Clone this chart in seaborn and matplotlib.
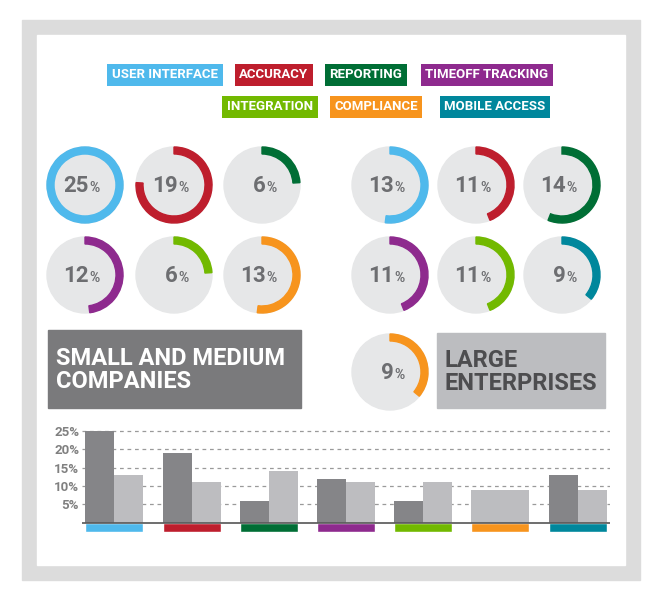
import numpy as np
import pandas as pd
import matplotlib
matplotlib.use("Agg")
import matplotlib.pyplot as plt
from matplotlib.patches import Rectangle, Wedge, Circle
import seaborn as sns

# ---- data ----
categories = ["USER INTERFACE", "ACCURACY", "REPORTING", "TIMEOFF TRACKING",
              "INTEGRATION", "COMPLIANCE", "MOBILE ACCESS"]
cat_colors = ["#4fb9ec", "#be1e2d", "#006e35", "#8e2a8e", "#72b900", "#f7941d", "#00879c"]
small_circles = [25, 19, 6, 12, 6, 13]
small_circle_cats = [0, 1, 2, 3, 4, 5]
large_circles = [13, 11, 14, 11, 11, 9, 9]
large_circle_cats = [0, 1, 2, 3, 4, 6, 5]
small_bars = [25, 19, 6, 12, 6, 9, 13]
large_bars = [13, 11, 14, 11, 11, 9, 9]
yticks = [5, 10, 15, 20, 25]

sns.set_theme(style="white")
plt.rcParams["font.family"] = ["Roboto", "DejaVu Sans"]
FONT = dict(fontweight="bold")

fig = plt.figure(figsize=(6.6, 6.01), dpi=100)
bg = fig.add_axes([0, 0, 1, 1])
bg.set_xlim(0, 660)
bg.set_ylim(601, 0)
bg.axis("off")

# frame
bg.add_patch(Rectangle((22, 20), 618, 560, color="#dcdcdc", zorder=0))
bg.add_patch(Rectangle((37, 35), 588, 530, color="white", zorder=1))

# legend tags
rows = [[0, 1, 2, 3], [4, 5, 6]]
row_y = [75, 107]
row_x = [[165, 274, 366, 487], [270, 376, 495]]
for r, idxs in enumerate(rows):
    for i, x in zip(idxs, row_x[r]):
        bg.text(x, row_y[r], categories[i], ha="center", va="center", color="white",
                fontsize=9.5, zorder=3,
                bbox=dict(boxstyle="square,pad=0.35", fc=cat_colors[i], ec="none"), **FONT)


def ring(cx, cy, val, col, r=38):
    bg.add_patch(Circle((cx, cy), r, color="#e6e7e8", zorder=2))
    frac = min(val / 25, 1.0)
    # y axis is inverted: -90 is the top, increasing angle runs clockwise on screen
    bg.add_patch(Wedge((cx, cy), r, -90, -90 + 360 * frac, width=7, color=col, zorder=3))
    bg.text(cx + 4, cy + 1, str(val), ha="right", va="center", fontsize=16,
            color="#6d6e71", zorder=4, **FONT)
    bg.text(cx + 4, cy + 3, "%", ha="left", va="center", fontsize=10,
            color="#6d6e71", zorder=4, **FONT)


small_pos = [(85, 185), (174, 185), (262, 185), (85, 275), (174, 275), (262, 275)]
for (cx, cy), v, c in zip(small_pos, small_circles, small_circle_cats):
    ring(cx, cy, v, cat_colors[c])
large_pos = [(390, 185), (476, 185), (562, 185), (390, 275), (476, 275), (562, 275), (390, 372)]
for (cx, cy), v, c in zip(large_pos, large_circles, large_circle_cats):
    ring(cx, cy, v, cat_colors[c])

# titles
bg.add_patch(Rectangle((48, 330), 253, 78, color="#7a7a7c", zorder=2))
bg.text(56, 370, "SMALL AND MEDIUM\nCOMPANIES", ha="left", va="center", color="white",
        fontsize=17, linespacing=1.05, zorder=3, **FONT)
bg.add_patch(Rectangle((437, 333), 168, 75, color="#bcbdc0", zorder=2))
bg.text(445, 372, "LARGE\nENTERPRISES", ha="left", va="center", color="#4d4d4f",
        fontsize=17, linespacing=1.05, zorder=3, **FONT)

# ---- bar chart ----
ax = fig.add_axes([82 / 660, 1 - 532 / 601, 528 / 660, 105 / 601])
df = pd.DataFrame({
    "cat": categories * 2,
    "pct": small_bars + large_bars,
    "size": ["small"] * 7 + ["large"] * 7,
})
sns.barplot(data=df, x="cat", y="pct", hue="size", order=categories,
            hue_order=["small", "large"], palette=["#848589", "#bcbdc0"],
            width=0.75, gap=0, legend=False, ax=ax, zorder=3)
# compliance has a single light bar
bars = [p for p in ax.patches]
bars[5].set_facecolor("#bcbdc0")
for p in bars:
    p.set_edgecolor("none")
for t in yticks:
    ax.axhline(t, color="#9a9a9a", ls=(0, (3, 3)), lw=0.9, zorder=1)
ax.bar(range(7), 2.5, bottom=-2.5, width=0.75, color=cat_colors, zorder=3)
ax.axhline(0, color="#555555", lw=1.2, zorder=4)
ax.set_ylim(-2.5, 26)
ax.set_xlim(-0.42, 6.42)
ax.set_yticks(yticks)
ax.set_yticklabels([f"{t}%" for t in yticks], color="#808080", fontsize=9.5, **FONT)
ax.tick_params(axis="y", length=0, pad=2)
ax.set_xticks([])
ax.set_xlabel("")
ax.set_ylabel("")
for s in ax.spines.values():
    s.set_visible(False)
ax.patch.set_alpha(0)

fig.savefig("out.png", dpi=100)
